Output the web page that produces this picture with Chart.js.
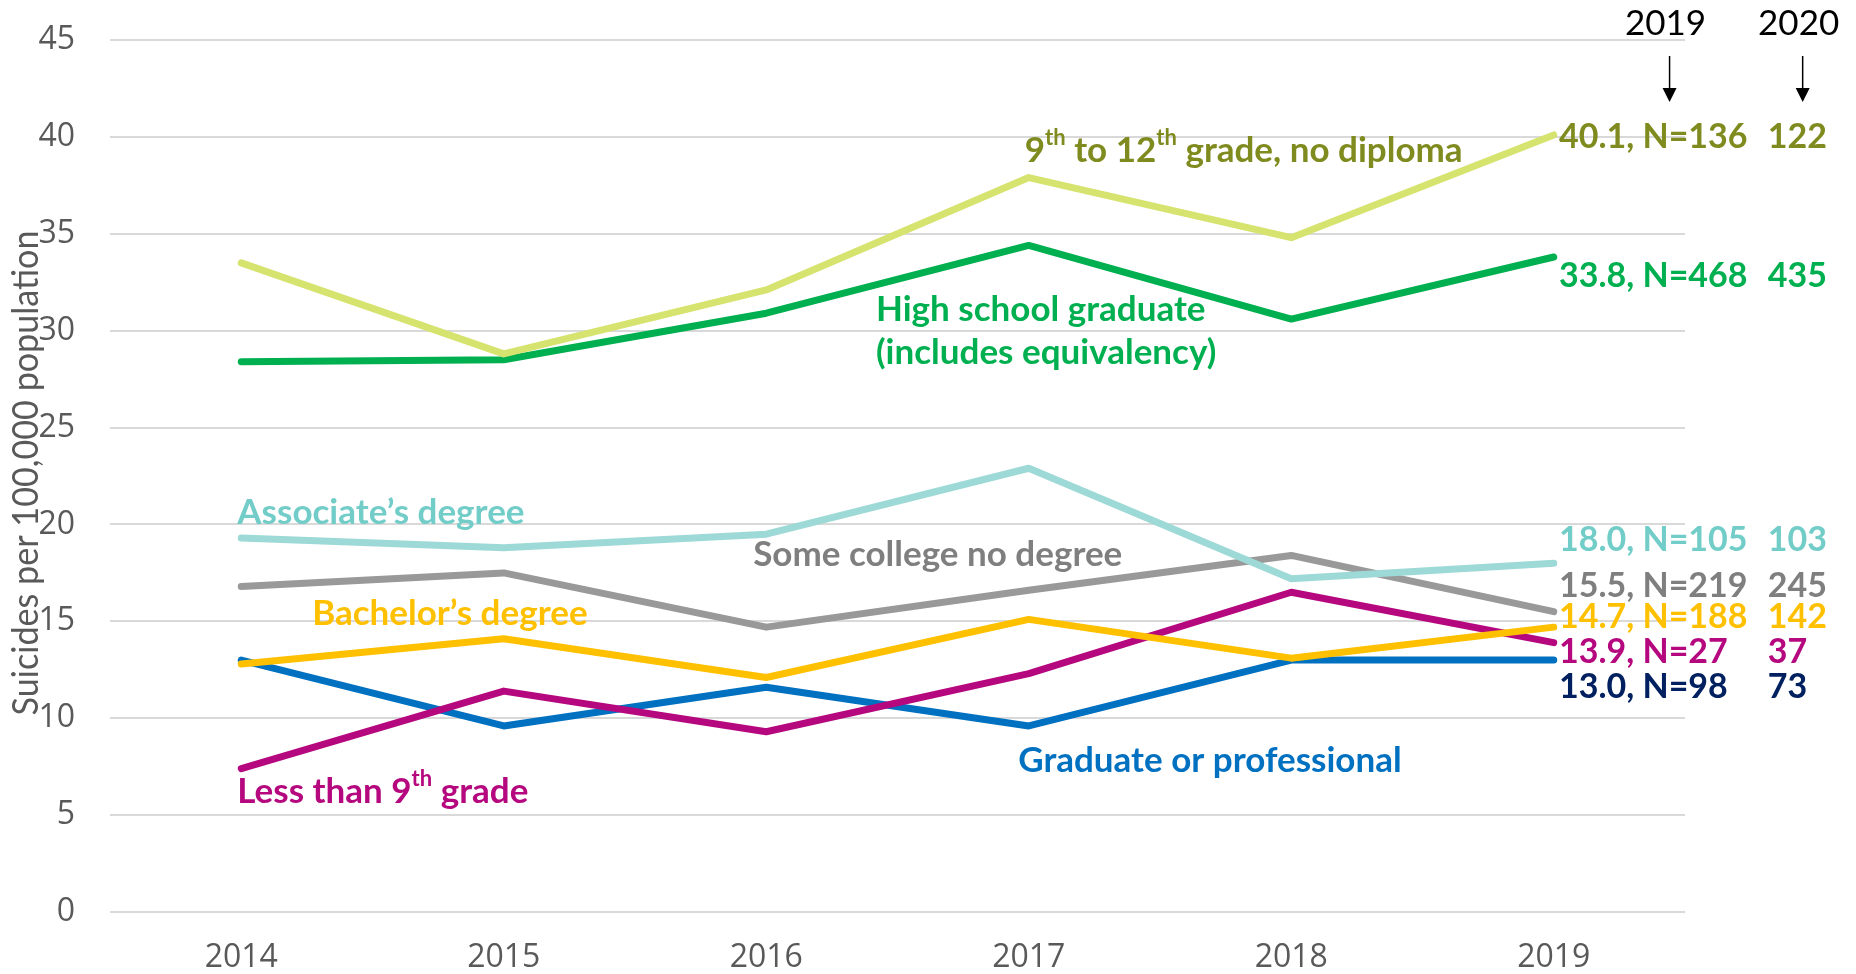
<!DOCTYPE html>
<html>
<head>
<meta charset="utf-8">
<script src="https://cdn.jsdelivr.net/npm/chart.js@4/dist/chart.umd.min.js"></script>
<style>
  html, body { margin:0; padding:0; background:#fff; }
  #wrap { width:1856px; height:974px; position:relative; }
</style>
</head>
<body>
<div id="wrap"><canvas id="chart"></canvas></div>
<script>
// values
const years = ['2014','2015','2016','2017','2018','2019'];
const noDiploma   = [33.5, 28.8, 32.1, 37.9, 34.8, 40.1];
const highSchool  = [28.4, 28.5, 30.9, 34.4, 30.6, 33.8];
const associate   = [19.3, 18.8, 19.5, 22.9, 17.2, 18.0];
const someCollege = [16.8, 17.5, 14.7, 16.6, 18.4, 15.5];
const bachelor    = [12.8, 14.1, 12.1, 15.1, 13.1, 14.7];
const lessThan9th = [7.4, 11.4, 9.3, 12.3, 16.5, 13.9];
const graduate    = [13.0, 9.6, 11.6, 9.6, 13.0, 13.0];

const yTicks = [0, 5, 10, 15, 20, 25, 30, 35, 40, 45];
const yTitle = 'Suicides per 100,000 population';

// end-of-line notes: 2019 rate/N and the 2020 N
const endNotes = [
  { text:'40.1, N=136', n2020:'122', color:'#7F8B1E', at:40.0 },
  { text:'33.8, N=468', n2020:'435', color:'#00B050', at:32.8 },
  { text:'18.0, N=105', n2020:'103', color:'#72CDC8', at:19.2 },
  { text:'15.5, N=219', n2020:'245', color:'#7F7F7F', at:16.8 },
  { text:'14.7, N=188', n2020:'142', color:'#FFC000', at:15.2 },
  { text:'13.9, N=27',  n2020:'37',  color:'#B5087F', at:13.4 },
  { text:'13.0, N=98',  n2020:'73',  color:'#002060', at:11.6 },
];

// series name labels, placed in data units (category index, value)
const nameLabels = [
  { parts:[['9'],['th',1],[' to 12'],['th',1],[' grade, no diploma']], color:'#7F8B1E', x:2.985, y:39.3 },
  { parts:[['High school graduate']], color:'#00B050', x:2.418, y:31.1 },
  { parts:[['(includes equivalency)']], color:'#00B050', x:2.418, y:28.85 },
  { parts:[['Associate\u2019s degree']], color:'#72CDC8', x:-0.015, y:20.6 },
  { parts:[['Some college no degree']], color:'#7F7F7F', x:1.95, y:18.45 },
  { parts:[['Bachelor\u2019s degree']], color:'#FFC000', x:0.27, y:15.4 },
  { parts:[['Less than 9'],['th',1],[' grade']], color:'#B5087F', x:-0.015, y:6.2 },
  { parts:[['Graduate or professional']], color:'#0070C0', x:2.96, y:7.8 },
];

const mk = (label, data, color) => ({
  label, data, borderColor:color, backgroundColor:color,
  borderWidth:7, pointRadius:0, tension:0, fill:false,
  borderCapStyle:'round', borderJoinStyle:'round'
});

function drawRich(ctx, parts, x, y, size, color){
  let cx = x;
  parts.forEach(p => {
    const sup = p[1];
    ctx.font = 'bold ' + (sup ? Math.round(size*0.62) : size) + 'px Lato';
    ctx.fillStyle = color;
    ctx.fillText(p[0], cx, sup ? y - size*0.36 : y);
    cx += ctx.measureText(p[0]).width;
  });
}

const notesPlugin = {
  id:'notes',
  afterDatasetsDraw(chart){
    const ctx = chart.ctx, xs = chart.scales.x, ys = chart.scales.y;
    ctx.save();
    ctx.textBaseline = 'middle';
    ctx.textAlign = 'left';
    nameLabels.forEach(l => {
      drawRich(ctx, l.parts, xs.getPixelForValue(l.x), ys.getPixelForValue(l.y), 35, l.color);
    });
    endNotes.forEach(n => {
      const y = ys.getPixelForValue(n.at);
      ctx.font = 'bold 34px Lato';
      ctx.fillStyle = n.color;
      ctx.fillText(n.text, xs.getPixelForValue(5.02), y);
      ctx.fillText(n.n2020, xs.getPixelForValue(5.815), y);
    });
    // column headers with arrows
    [['2019', 5.426], ['2020', 5.933]].forEach(h => {
      const cx = xs.getPixelForValue(h[1]);
      ctx.font = '35px Lato';
      ctx.fillStyle = '#000';
      ctx.textAlign = 'center';
      ctx.fillText(h[0], cx, 24);
      const ax = cx + 4;
      ctx.strokeStyle = '#000';
      ctx.lineWidth = 1.5;
      ctx.beginPath(); ctx.moveTo(ax, 56); ctx.lineTo(ax, 92); ctx.stroke();
      ctx.beginPath(); ctx.moveTo(ax-7, 88); ctx.lineTo(ax+7, 88); ctx.lineTo(ax, 102); ctx.closePath(); ctx.fill();
    });
    // rotated axis title, squeezed like a condensed face
    ctx.translate(26, 473);
    ctx.rotate(-Math.PI/2);
    ctx.font = '36px Lato';
    const w = ctx.measureText(yTitle).width;
    ctx.scale(485 / w, 1);
    ctx.fillStyle = '#595959';
    ctx.textAlign = 'center';
    ctx.fillText(yTitle, 0, 0);
    ctx.restore();
  }
};

new Chart(document.getElementById('chart'), {
  type:'line',
  data:{
    labels: years,
    datasets:[
      mk('9th to 12th grade, no diploma', noDiploma, '#D6E36E'),
      mk('High school graduate', highSchool, '#00B050'),
      mk('Associate\u2019s degree', associate, '#9DD9D6'),
      mk('Some college no degree', someCollege, '#999999'),
      mk('Bachelor\u2019s degree', bachelor, '#FFC000'),
      mk('Less than 9th grade', lessThan9th, '#B5087F'),
      mk('Graduate or professional', graduate, '#0070C0'),
    ]
  },
  options:{
    responsive:true, maintainAspectRatio:false, animation:false,
    layout:{ padding:{ top:40, right:171, left:0, bottom:0 } },
    plugins:{ legend:{ display:false }, tooltip:{ enabled:false } },
    scales:{
      x:{
        offset:true,
        grid:{ display:false, drawTicks:false },
        border:{ display:false },
        ticks:{ color:'#595959', font:{ family:'Open Sans', size:32 }, padding:27, maxRotation:0 },
        afterFit(s){ s.height = 62; s.paddingLeft = 0; s.paddingRight = 0; }
      },
      y:{
        min:0, max:45,
        afterBuildTicks(s){ s.ticks = yTicks.map(v => ({ value:v })); },
        grid:{ color:'#D9D9D9', lineWidth:2, drawTicks:false },
        border:{ display:false },
        ticks:{ color:'#595959', font:{ family:'Open Sans', size:32 }, padding:35 },
        afterFit(s){ s.width = 110; s.paddingTop = 0; s.paddingBottom = 0; }
      }
    }
  },
  plugins:[notesPlugin]
});
</script>
</body>
</html>
